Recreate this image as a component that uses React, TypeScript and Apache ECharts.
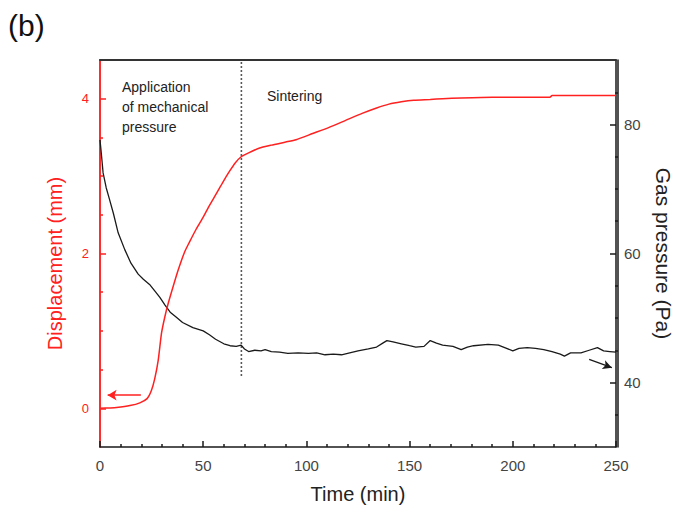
import React, { useEffect, useRef } from "react";
import * as echarts from "echarts";

const FONT = "'Liberation Sans', Arial, sans-serif";

// Displacement (mm) vs time (min) — left axis, red
const redTime = [0, 5, 8, 14.5, 19.3, 22.8, 24.9, 26.5, 28.2, 29.8, 31.4, 33, 35.4, 37.8, 41, 43.4, 46.5, 50, 53, 56.3, 59.5, 62.7, 65.5, 68.4, 72, 77, 83, 90, 95, 103, 111, 119, 127, 134, 140, 146, 152, 160, 166, 175, 190, 205, 218, 219, 235, 250];
const redVals = [0, 0.005, 0.01, 0.035, 0.07, 0.125, 0.23, 0.38, 0.62, 0.97, 1.18, 1.35, 1.57, 1.78, 2.02, 2.15, 2.31, 2.47, 2.62, 2.77, 2.92, 3.06, 3.17, 3.25, 3.3, 3.36, 3.4, 3.44, 3.47, 3.55, 3.63, 3.72, 3.81, 3.88, 3.93, 3.96, 3.98, 3.99, 4.0, 4.01, 4.02, 4.02, 4.02, 4.04, 4.04, 4.04];

// Gas pressure (Pa) vs time (min) — right axis, black
const blackTime = [0, 0.5, 1.5, 3, 4.5, 6.5, 8.8, 12, 15, 18.5, 21, 24, 27, 29, 31.5, 34, 37, 40, 45, 50, 53, 56, 60, 63, 66, 68.4, 70, 72, 75, 78, 80, 83, 87, 91, 96, 101, 105, 109, 113, 117, 121, 125, 130, 134, 137, 139, 142, 146, 150, 153, 157, 160, 163, 166, 171, 175, 178, 181, 188, 193, 197, 200, 203, 207, 211, 215, 219, 223, 225, 228, 233, 237, 241, 244, 247, 250];
const blackVals = [77.6, 76.0, 72.5, 70.2, 68.5, 66.2, 63.2, 60.6, 58.5, 56.8, 56.0, 55.2, 54.0, 53.2, 52.0, 50.9, 50.1, 49.3, 48.5, 48.0, 47.4, 46.7, 46.0, 45.7, 45.6, 45.8, 45.2, 44.8, 45.0, 44.9, 45.1, 44.8, 44.7, 44.5, 44.6, 44.5, 44.6, 44.3, 44.4, 44.3, 44.6, 44.9, 45.2, 45.5, 46.1, 46.5, 46.3, 46.0, 45.7, 45.5, 45.6, 46.5, 46.1, 45.8, 45.6, 45.1, 45.5, 45.7, 45.9, 45.8, 45.3, 44.9, 45.3, 45.4, 45.3, 45.1, 44.8, 44.4, 44.1, 44.6, 44.6, 45.0, 45.4, 44.9, 44.8, 44.7];

// Tick values
const xMajorInterval = 50;
const leftLabels = [0, 2, 4];
const leftMinor = [0.5, 1, 1.5, 2.5, 3, 3.5];
const rightLabels = [40, 60, 80];
const rightMinor = [35, 45, 50, 55, 65, 70, 75, 85];

// Annotation values
const phaseBoundary = 68.5; // min
const dividerBottom = 0.42; // mm
const redArrow = { from: [19.8, 0.17], to: [3.7, 0.17] };
const blackArrow = { from: [237, 43.6], to: [248, 42.3] };

const RED = "#ff2020";
const BLACK = "#1a1a1a";

export default function App() {
  const ref = useRef<HTMLDivElement>(null);
  useEffect(() => {
    if (!ref.current) return;
    const chart = echarts.init(ref.current, undefined, { renderer: "svg" });
    const redData = redTime.map((t, i) => [t, redVals[i]]);
    const blackData = blackTime.map((t, i) => [t, blackVals[i]]);
    const baseY = { type: "value", splitLine: { show: false }, minorSplitLine: { show: false } };
    const gridBox = { left: 100, right: 64, top: 60, bottom: 62 };
    chart.setOption({
      animation: false,
      backgroundColor: "#ffffff",
      textStyle: { fontFamily: FONT },
      grid: [gridBox, { ...gridBox }],
      xAxis: [
        {
          type: "value",
          gridIndex: 0,
          min: 0,
          max: 250,
          interval: xMajorInterval,
          position: "bottom",
          axisLine: { onZero: false, lineStyle: { color: BLACK, width: 1.5 } },
          axisTick: { inside: true, length: 6, lineStyle: { color: BLACK, width: 1.5 } },
          minorTick: { show: true, splitNumber: 5, length: 3, lineStyle: { color: BLACK, width: 1.5 } },
          axisLabel: { fontSize: 15, color: "#444", margin: 11, fontFamily: FONT },
          splitLine: { show: false },
          minorSplitLine: { show: false },
          name: "Time (min)",
          nameLocation: "middle",
          nameGap: 37,
          nameTextStyle: { fontSize: 20, color: "#222", fontFamily: FONT },
        },
        {
          type: "value",
          gridIndex: 0,
          min: 0,
          max: 250,
          position: "top",
          axisLine: { show: true, onZero: false, lineStyle: { color: "#333", width: 2 } },
          axisTick: { show: false },
          axisLabel: { show: false },
          splitLine: { show: false },
        },
        {
          type: "value",
          gridIndex: 1,
          min: 0,
          max: 250,
          show: false,
        },
      ],
      yAxis: [
        {
          ...baseY,
          gridIndex: 0,
          min: -0.5,
          max: 4.5,
          position: "left",
          axisLine: { show: true, onZero: false, lineStyle: { color: RED, width: 1.5 } },
          axisTick: { show: true, inside: true, length: 6, customValues: leftLabels, lineStyle: { color: RED, width: 1.5 } },
          axisLabel: { customValues: leftLabels, fontSize: 13, color: RED, margin: 11, fontFamily: FONT },
          name: "Displacement (mm)",
          nameLocation: "middle",
          nameRotate: 90,
          nameGap: 35,
          nameTextStyle: { fontSize: 20, color: RED, fontFamily: FONT, padding: [0, 20, 0, 0] },
        },
        {
          ...baseY,
          gridIndex: 0,
          min: 30,
          max: 90,
          position: "right",
          axisLine: { show: true, onZero: false, lineStyle: { color: BLACK, width: 1.5 } },
          axisTick: { show: true, inside: true, length: 6, customValues: rightLabels, lineStyle: { color: BLACK, width: 1.5 } },
          axisLabel: { customValues: rightLabels, fontSize: 15, color: "#444", margin: 8, fontFamily: FONT },
          name: "Gas pressure (Pa)",
          nameLocation: "middle",
          nameRotate: -90,
          nameGap: 37,
          nameTextStyle: { fontSize: 21, color: "#222", fontFamily: FONT },
        },
        {
          ...baseY,
          gridIndex: 1,
          min: -0.5,
          max: 4.5,
          position: "left",
          axisLine: { show: true, onZero: false, lineStyle: { color: RED, width: 1.5 } },
          axisTick: { show: true, inside: true, length: 3, customValues: leftMinor, lineStyle: { color: RED, width: 1.5 } },
          axisLabel: { show: false },
        },
        {
          ...baseY,
          gridIndex: 1,
          min: 30,
          max: 90,
          position: "right",
          axisLine: { show: true, onZero: false, lineStyle: { color: BLACK, width: 1.5 } },
          axisTick: { show: true, inside: true, length: 3, customValues: rightMinor, lineStyle: { color: BLACK, width: 1.5 } },
          axisLabel: { show: false },
        },
      ],
      series: [
        {
          type: "line",
          name: "Gas pressure",
          xAxisIndex: 0,
          yAxisIndex: 1,
          data: blackData,
          showSymbol: false,
          symbol: "none",
          lineStyle: { color: BLACK, width: 1.3 },
          z: 3,
          markLine: {
            silent: true,
            symbol: ["none", "arrow"],
            symbolSize: [7, 9],
            label: { show: false },
            lineStyle: { color: BLACK, width: 1.3, type: "solid" },
            data: [[{ coord: blackArrow.from }, { coord: blackArrow.to }]],
          },
        },
        {
          type: "line",
          name: "Displacement",
          xAxisIndex: 0,
          yAxisIndex: 0,
          data: redData,
          showSymbol: false,
          symbol: "none",
          smooth: 0.2,
          lineStyle: { color: RED, width: 1.5 },
          z: 4,
          markLine: {
            silent: true,
            symbol: ["none", "arrow"],
            symbolSize: [8, 9],
            label: { show: false },
            lineStyle: { color: RED, width: 1.5, type: "solid" },
            data: [[{ coord: redArrow.from }, { coord: redArrow.to }]],
          },
        },
        {
          type: "line",
          name: "Divider",
          xAxisIndex: 0,
          yAxisIndex: 0,
          data: [
            [phaseBoundary, dividerBottom],
            [phaseBoundary, 4.5],
          ],
          showSymbol: false,
          symbol: "none",
          lineStyle: { color: "#222", width: 1.6, type: [1.6, 2.4] },
          z: 2,
        },
      ],
      graphic: [
        { type: "text", left: 8, top: 10, style: { text: "(b)", fontSize: 30, fill: "#111", fontFamily: FONT } },
        { type: "text", x: 122, y: 87, style: { text: "Application", fontSize: 14, fill: "#222", fontFamily: FONT, textVerticalAlign: "middle" } },
        { type: "text", x: 122, y: 107, style: { text: "of mechanical", fontSize: 14, fill: "#222", fontFamily: FONT, textVerticalAlign: "middle" } },
        { type: "text", x: 122, y: 127, style: { text: "pressure", fontSize: 14, fill: "#222", fontFamily: FONT, textVerticalAlign: "middle" } },
        { type: "text", x: 267, y: 96, style: { text: "Sintering", fontSize: 14, fill: "#222", fontFamily: FONT, textVerticalAlign: "middle" } },
      ],
    });
    return () => chart.dispose();
  }, []);
  return <div ref={ref} style={{ position: "fixed", left: 0, top: 0, width: 682, height: 509 }} />;
}
